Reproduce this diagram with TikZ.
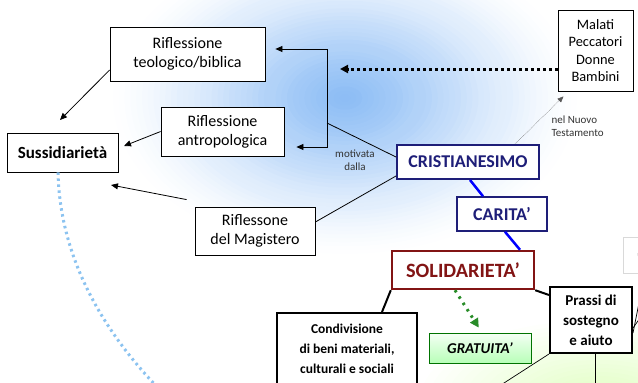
\documentclass[tikz,border=0pt]{standalone}
\usepackage{fontspec}
\setmainfont{Carlito}
\usetikzlibrary{arrows.meta,calc}
\definecolor{navyb}{RGB}{30,30,120}
\definecolor{darkr}{RGB}{130,20,20}
\definecolor{glow}{RGB}{105,168,242}
\definecolor{lblue}{RGB}{140,195,240}
\definecolor{gdot}{RGB}{40,140,40}
\begin{document}
\begin{tikzpicture}[x=1pt,y=-1pt,
  box/.style={draw,line width=0.8pt,fill=white,align=center,inner sep=2pt,font=\fontsize{16}{19}\selectfont},
  bbox/.style={draw,line width=2pt,fill=white,align=center,inner sep=2pt,font=\bfseries\fontsize{13.5}{20}\selectfont},
  arr/.style={-{Triangle[length=7pt,width=6pt]},line width=0.8pt},
  small/.style={font=\fontsize{11}{13}\selectfont,align=center,text=black!80}]
\useasboundingbox (0,0) rectangle (638,383);
% background glows
\begin{scope}
\clip (0,0) rectangle (638,383);
\foreach \i in {1,...,40}{
  \pgfmathsetmacro\op{0.008+0.055*(40-\i)/40}
  \fill[glow,opacity=\op] (345,98) ellipse ({\i*5.8} and {\i*3.9});}
\foreach \i in {1,...,20} \fill[green!50!yellow,opacity=0.012] (600,400) ellipse ({\i*9} and {\i*4});
\end{scope}
% nodes
\node[box,minimum width=155pt,minimum height=54pt] (teo) at (187.5,54) {Riflessione\\teologico/biblica};
\node[box,minimum width=123pt,minimum height=49pt] (antro) at (222.5,131.5) {Riflessione\\antropologica};
\node[box,minimum width=111pt,minimum height=39pt,font=\bfseries\fontsize{17}{20}\selectfont] (suss) at (62.5,152.5) {Sussidiarietà};
\node[box,minimum width=120pt,minimum height=48pt] (magi) at (255,231) {Riflessone\\del Magistero};
\node[box,minimum width=75pt,minimum height=81pt,font=\fontsize{14.4}{17.5}\selectfont] (mal) at (595.5,50.5) {Malati\\Peccatori\\Donne\\Bambini};
\node[draw=navyb,line width=2pt,fill=white,text=navyb,font=\bfseries\fontsize{18}{20}\selectfont,minimum width=142pt,minimum height=34pt,inner sep=2pt] (cri) at (468,162) {CRISTIANESIMO};
\node[draw=navyb,line width=1.5pt,fill=white,text=navyb,font=\bfseries\fontsize{18}{20}\selectfont,minimum width=90pt,minimum height=34pt,inner sep=2pt] (car) at (502,214) {CARITA’};
\node[draw=darkr,line width=2.4pt,fill=white,text=darkr,font=\bfseries\fontsize{20.3}{22}\selectfont,minimum width=142pt,minimum height=38pt,inner sep=2pt] (sol) at (463,270) {SOLIDARIETA’};
\node[bbox,minimum width=140pt,minimum height=72pt] (cond) at (347,349) {Condivisione\\di beni materiali,\\culturali e sociali};
\node[draw=green!45!black,line width=0.6pt,top color=green!4,bottom color=green!28,font=\bfseries\itshape\fontsize{15}{17}\selectfont,minimum width=102pt,minimum height=30pt,inner sep=2pt] (gra) at (480,348) {GRATUITA’};
\node[bbox,minimum width=82pt,minimum height=66pt,font=\bfseries\fontsize{15}{20}\selectfont] (pra) at (591,320) {Prassi di\\sostegno\\e aiuto};
\node[draw=gray!30,line width=0.6pt,fill=white,minimum width=30pt,minimum height=36pt,text=gray!40,font=\fontsize{6}{7}\selectfont] (fnt) at (638,255) {s\hspace{12pt}};
% coordinates
\coordinate (b1) at (327,49);
\coordinate (b2) at (327,147);
\coordinate (b3) at (327,123);
\coordinate (dt) at (340,69);
\coordinate (c1) at (490,392);
\coordinate (c2) at (595,392);
\coordinate (c3) at (640,298);
\coordinate (c4) at (640,318);
\coordinate (sarc) at (165,395);
% connectors
\draw[arr] (teo.south west |- 0,70) -- (60,120);
\draw[arr] (antro.west) -- (124,146);
\draw[arr] ([xshift=-8pt,yshift=7pt]magi.north west) -- (111,185);
\draw[arr,shorten >=10pt] (b2) -- (b1) -- (teo.east |- b1);
\draw[arr,shorten >=12pt] (b1) -- (b2) -- (antro.east |- b2);
\draw[line width=0.8pt] (b3) -- ([yshift=5pt]cri.west);
\draw[line width=0.8pt] ([yshift=9pt]magi.east) -- ([yshift=4pt]cri.south west);
\node[small] (mot) at (355,160) {motivata\\dalla};
\draw[-{Triangle[length=8pt,width=8pt]},line width=3pt,dash pattern=on 3pt off 3pt] ([yshift=-18.5pt]mal.west) -- (dt);
\draw[-{Triangle[length=6pt,width=5pt]},line width=0.5pt,gray!70!black,densely dotted] ([xshift=47pt]cri.north) -- ([xshift=-32pt,yshift=-5pt]mal.south);
\node[small,anchor=west,align=left] (nel) at (548,126) {nel Nuovo\\Testamento};
\draw[blue,line width=2.5pt] ([xshift=2pt]cri.south) -- ([xshift=-19pt]car.north);
\draw[blue,line width=2.5pt] ([xshift=3pt]car.south) -- ([xshift=57pt]sol.north);
\draw[line width=2pt] (sol.south west) -- ([xshift=35pt]cond.north);
\draw[line width=2pt] (sol.south east) -- ([yshift=-9pt]pra.north west);
\draw[-{Triangle[length=9pt,width=9pt]},gdot,line width=3pt,dash pattern=on 2.5pt off 5pt,shorten >=6pt] ([xshift=-8pt]sol.south) -- ([xshift=2pt]gra.north);
\draw[line width=0.7pt] (pra.south west) -- (c1);
\draw[line width=0.7pt] ([xshift=4pt]pra.south) -- (c2);
\draw[line width=0.7pt] ([yshift=-13pt]pra.east) -- (c3);
\draw[line width=0.7pt] ([yshift=-8pt]pra.east) -- (c4);
\draw[lblue,line width=3pt,dash pattern=on 2.5pt off 3.5pt] (suss.south -| 58,0) .. controls (60,260) and (105,335) .. (sarc);
\end{tikzpicture}
\end{document}
